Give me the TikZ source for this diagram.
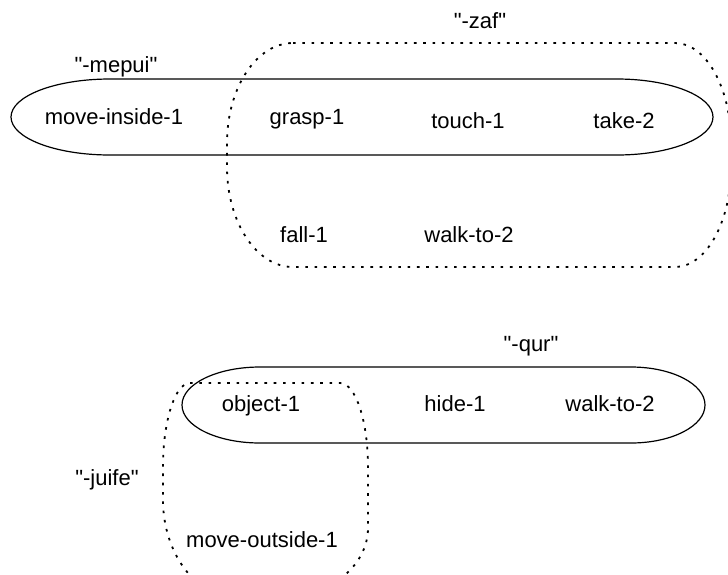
\documentclass[tikz,border=0pt]{standalone}
\usepackage{fontspec}
\setmainfont{Liberation Sans}
\usepackage{tikz}

\begin{document}
\begin{tikzpicture}[
    x=1pt, y=-1pt,
    event/.style={anchor=base, inner sep=0pt, font=\fontsize{22}{26}\selectfont},
    grouptag/.style={anchor=base, inner sep=0pt, font=\fontsize{22}{26}\selectfont},
    hull/.style={draw=black, line width=1.2pt},
    dothull/.style={draw=black, line width=1.8pt, dash pattern=on 2.6pt off 6.7pt},
]
    \useasboundingbox (0,0) rectangle (728,574);

    % solid hulls
    \draw[hull] (110,79) -- (617,79) arc[start angle=-90, end angle=90, x radius=96, y radius=38]
        -- (110,155) arc[start angle=90, end angle=270, x radius=99, y radius=38] -- cycle;
    \draw[hull] (260,367) -- (631,367) arc[start angle=-90, end angle=90, x radius=74, y radius=38]
        -- (260,443) arc[start angle=90, end angle=270, x radius=78, y radius=38] -- cycle;

    % dotted hulls
    \draw[dothull] (293,43) -- (675,43) arc[start angle=-90, end angle=0, x radius=56, y radius=100]
        -- (731,167) arc[start angle=0, end angle=90, x radius=56, y radius=100]
        -- (293,267) arc[start angle=90, end angle=180, x radius=66, y radius=100]
        -- (227,143) arc[start angle=180, end angle=270, x radius=66, y radius=100] -- cycle;
    \draw[dothull] (190,383) -- (340,383) arc[start angle=-90, end angle=0, x radius=28, y radius=84]
        -- (368,528) arc[start angle=0, end angle=90, x radius=95, y radius=72]
        -- (242,600) arc[start angle=90, end angle=180, x radius=79, y radius=100]
        -- (163,467) arc[start angle=180, end angle=270, x radius=27, y radius=84] -- cycle;

    % group names
    \node[grouptag] (mepui) at (116,72) {\textquotedbl-mepui\textquotedbl};
    \node[grouptag] (zaf) at (480,28) {\textquotedbl-zaf\textquotedbl};
    \node[grouptag] (qur) at (531,351) {\textquotedbl-qur\textquotedbl};
    \node[grouptag] (juife) at (107,485) {\textquotedbl-juife\textquotedbl};

    % events
    \node[event] (moveinside) at (114,124) {move-inside-1};
    \node[event] (grasp) at (307,124) {grasp-1};
    \node[event] (touch) at (468,128) {touch-1};
    \node[event] (take) at (624,128) {take-2};
    \node[event] (fall) at (304,242) {fall-1};
    \node[event] (walktoA) at (469,242) {walk-to-2};
    \node[event] (object) at (261,411) {object-1};
    \node[event] (hide) at (455,411) {hide-1};
    \node[event] (walktoB) at (610,411) {walk-to-2};
    \node[event] (moveoutside) at (262,547) {move-outside-1};
\end{tikzpicture}
\end{document}
